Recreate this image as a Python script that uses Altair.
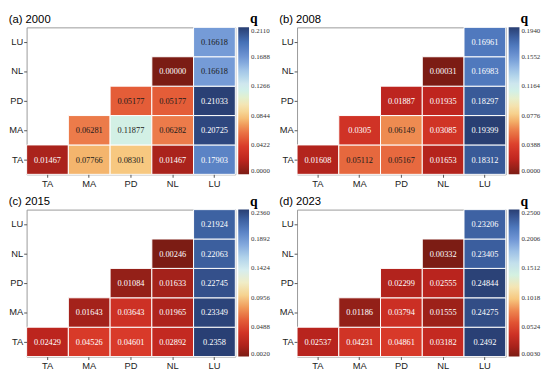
import altair as alt
import pandas as pd

cats = ["TA", "MA", "PD", "NL", "LU"]
titles = ["(a) 2000", "(b) 2008", "(c) 2015", "(d) 2023"]

# values listed row by row (TA row first, left to right), lower-right triangle
q2000 = ["0.01467", "0.07766", "0.08301", "0.01467", "0.17903",
         "0.06281", "0.11877", "0.06282", "0.20725",
         "0.05177", "0.05177", "0.21033",
         "0.00000", "0.16618",
         "0.16618"]
q2008 = ["0.01608", "0.05112", "0.05167", "0.01653", "0.18312",
         "0.0305", "0.06149", "0.03085", "0.19399",
         "0.01887", "0.01935", "0.18297",
         "0.00031", "0.16983",
         "0.16961"]
q2015 = ["0.02429", "0.04526", "0.04601", "0.02892", "0.2358",
         "0.01643", "0.03643", "0.01965", "0.23349",
         "0.01084", "0.01633", "0.22745",
         "0.00246", "0.22063",
         "0.21924"]
q2023 = ["0.02537", "0.04231", "0.04861", "0.03182", "0.2492",
         "0.01186", "0.03794", "0.01555", "0.24275",
         "0.02299", "0.02555", "0.24844",
         "0.00332", "0.23405",
         "0.23206"]
series = [q2000, q2008, q2015, q2023]
lows = [0.0, 0.0, 0.0020, 0.0030]
highs = [0.2110, 0.1940, 0.2360, 0.2500]

stops = ["#7b1c14", "#bf251f", "#dc3d2b", "#ec7c4b", "#f8cd85", "#f4ecc6",
         "#d9ecf0", "#a7c8e9", "#6f95d4", "#4570b6", "#293f73"]

W, H = 213, 150


def panel(title, labels, lo, hi):
    rows = []
    k = 0
    for yi, yc in enumerate(cats):
        for xc in cats[yi:]:
            v = float(labels[k])
            rows.append(dict(x=xc, y=yc, v=v, label=labels[k], t=(v - lo) / (hi - lo)))
            k += 1
    df = pd.DataFrame(rows)
    dom = [lo + (hi - lo) * i / (len(stops) - 1) for i in range(len(stops))]
    ticks = [round(lo + (hi - lo) * i / 5, 6) for i in range(6)]
    base = alt.Chart(df).encode(
        x=alt.X("x:N", scale=alt.Scale(domain=cats, paddingInner=0, paddingOuter=0),
                axis=alt.Axis(title=None, labelAngle=0)),
        y=alt.Y("y:N", scale=alt.Scale(domain=cats[::-1], paddingInner=0, paddingOuter=0),
                axis=alt.Axis(title=None)),
    )
    rect = base.mark_rect(stroke="white", strokeWidth=1).encode(
        color=alt.Color("v:Q", scale=alt.Scale(domain=dom, range=stops),
                        legend=alt.Legend(title="q", values=ticks, format=".4f",
                                          orient="none", legendX=W + 3, legendY=-15))
    )
    text = base.mark_text(font="Liberation Serif", fontSize=8.5).encode(
        text="label:N",
        color=alt.condition("datum.t < 0.2 || datum.t > 0.82", alt.value("white"), alt.value("#1a1a1a")),
    )
    return alt.layer(rect, text).properties(
        width=W, height=H,
        title=alt.TitleParams(title, anchor="start", font="Liberation Sans", fontSize=11.5,
                              fontWeight="normal", offset=-13, color="black"),
    ).resolve_scale(color="independent")


panels = [panel(titles[i], series[i], lows[i], highs[i]) for i in range(4)]
row1 = alt.hconcat(panels[0], panels[1], spacing=7).resolve_scale(color="independent")
row2 = alt.hconcat(panels[2], panels[3], spacing=7).resolve_scale(color="independent")
chart = alt.vconcat(row1, row2, spacing=6).resolve_scale(color="independent").configure(
    padding=0
).configure_view(stroke="#999999", strokeWidth=1).configure_axis(
    labelFont="Liberation Sans", labelFontSize=9.5, labelColor="#222222",
    tickSize=3, tickColor="#555555", domain=False, labelPadding=1
).configure_legend(
    gradientLength=H, gradientThickness=11,
    gradientStrokeWidth=0, labelFont="Liberation Serif", labelFontSize=7,
    labelColor="#333333", labelOverlap=False, labelOffset=3,
    titleFont="Liberation Serif", titleFontSize=14, titleFontWeight="bold",
    titleAnchor="middle", titlePadding=1, padding=0
)

chart.save("out.html", embed_options={"renderer": "svg", "actions": False})
